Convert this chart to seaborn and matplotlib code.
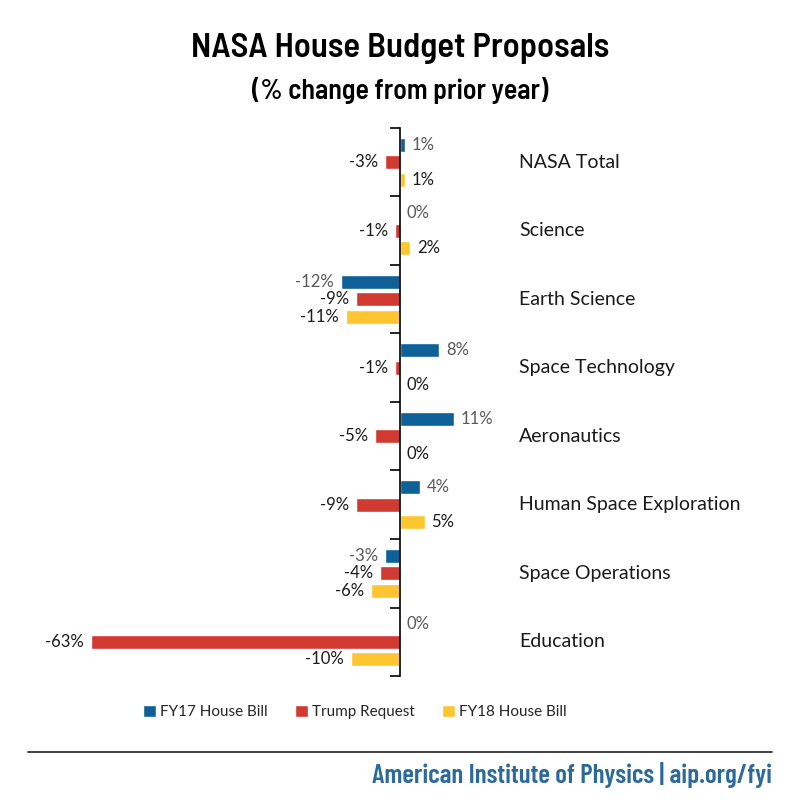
import pandas as pd
import numpy as np
import matplotlib
matplotlib.use('Agg')
import matplotlib.pyplot as plt
from matplotlib.lines import Line2D
import seaborn as sns

# Data
categories = ['NASA Total', 'Science', 'Earth Science', 'Space Technology',
              'Aeronautics', 'Human Space Exploration', 'Space Operations', 'Education']
series = ['FY17 House Bill', 'Trump Request', 'FY18 House Bill']
fy17_house = [1, 0, -12, 8, 11, 4, -3, 0]
trump_request = [-3, -1, -9, -1, -5, -9, -4, -63]
fy18_house = [1, 2, -11, 0, 0, 5, -6, -10]

colors = ['#0e6098', '#d13a31', '#fdc52f']
label_colors = ['#595959', '#1a1a1a', '#1a1a1a']

df = pd.DataFrame({
    'category': categories * 3,
    'series': np.repeat(series, len(categories)),
    'value': fy17_house + trump_request + fy18_house,
})

sns.set_theme(style='white')
plt.rcParams['font.family'] = ['Lato', 'DejaVu Sans']
title_font = ['Barlow Semi Condensed', 'Barlow Condensed', 'DejaVu Sans']
footer_font = ['Barlow Condensed', 'DejaVu Sans']

fig = plt.figure(figsize=(8, 8), dpi=100)
ax = fig.add_axes([0.05, 0.155, 0.9, 0.685])

sns.barplot(data=df, y='category', x='value', hue='series', orient='h',
            palette=colors, saturation=1, order=categories, hue_order=series,
            width=0.77, gap=0.2, errorbar=None, legend=False, ax=ax)

ax.set_xlim(-73.4, 73.4)
ax.set_xlabel('')
ax.set_ylabel('')
ax.set_xticks([])

# zero axis with boundary ticks
for s in ['top', 'right', 'bottom']:
    ax.spines[s].set_visible(False)
ax.spines['left'].set_position(('data', 0))
ax.spines['left'].set_color('black')
ax.spines['left'].set_linewidth(1.2)
ax.set_yticks([])
ax.set_yticks(np.arange(len(categories) + 1) - 0.5, minor=True)
ax.tick_params(axis='y', which='minor', direction='out', length=7,
               width=1.2, color='black', left=True, labelleft=False)

# value labels
all_vals = [fy17_house, trump_request, fy18_house]
for cont, vals, lc in zip(ax.containers, all_vals, label_colors):
    ax.bar_label(cont, labels=[f'{v}%' for v in vals], padding=5,
                 fontsize=12, color=lc)

# category labels
for i, cat in enumerate(categories):
    ax.text(0.6653, i, cat, transform=ax.get_yaxis_transform(),
            ha='left', va='center', fontsize=14, color='#1a1a1a')

# titles
fig.text(0.5, 0.94, 'NASA House Budget Proposals', ha='center', va='center',
         fontsize=25, fontweight=600, family=title_font, color='black')
fig.text(0.5, 0.887, '(% change from prior year)', ha='center', va='center',
         fontsize=20, fontweight=600, family=title_font, color='black')

# legend
fig.legend(ax.containers, series, loc='center', bbox_to_anchor=(0.444, 0.11),
           ncol=3, frameon=False, fontsize=11, handlelength=0.8,
           handleheight=0.8, handletextpad=0.3, columnspacing=1.8)

# footer
fig.add_artist(Line2D([0.035, 0.965], [0.06, 0.06], color='#222222', linewidth=1.2))
fig.text(0.965, 0.031, 'American Institute of Physics | aip.org/fyi', ha='right',
         va='center', fontsize=19.5, fontweight=600, family=footer_font, color='#2b6a9b')

fig.savefig('out.png', dpi=100)
